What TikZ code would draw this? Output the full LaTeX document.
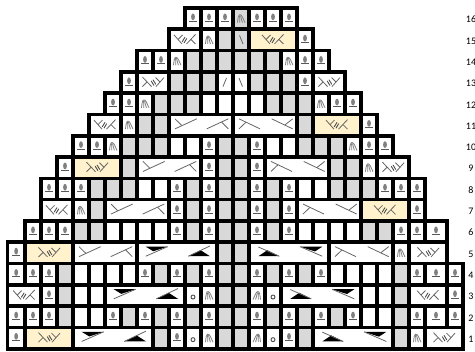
\documentclass[tikz,border=0pt]{standalone}
\usepackage{fontspec}
\setmainfont{Carlito}
\usepackage{xcolor}
\usetikzlibrary{calc}
\definecolor{cellgray}{HTML}{D9D9D9}
\definecolor{cellyellow}{HTML}{FFF2CC}
\tikzstyle{cellbox} = [draw=black, line width=3.6pt]
\tikzstyle{symline} = [draw=black!60, line width=0.8pt]
\tikzstyle{hillline} = [draw=black!50, line width=0.8pt]
\tikzstyle{rowlabel} = [font=\fontsize{10}{12}\selectfont, inner sep=0pt, text=black]
\tikzset{
  pics/stitchsym/.style={code={
    \fill[black!50] (0,-1.8) ellipse (1.9 and 3.4);
    \draw[black!65, line width=0.7pt] (-4,2.6) -- (4,2.6);
  }},
  pics/hillsym/.style={code={
    \draw[hillline] (-3.5,4) .. controls (-3,-1) and (-2.5,-4) .. (-1,-4) .. controls (1,-4) and (2,0) .. (4,4);
    \draw[hillline] (-1.2,4) -- (-1.4,-3);
    \draw[hillline] (1.4,4) -- (-0.5,-3);
  }},
  pics/yosym/.style={code={
    \draw[black!70, line width=0.9pt] (0,1.5) circle (2);
  }},
  pics/twistsym/.style={code={
    \draw[symline] (-11,-5) -- (-3,4);
    \draw[symline] (-7,-0.5) -- (-2.5,-5);
    \draw[black!70, line width=0.9pt] (-2.8,1.8) -- (0,-2.8);
    \draw[black!70, line width=0.9pt] (-1,3) -- (1.8,-1.6);
    \draw[symline] (1.5,4) -- (10.5,-5.5);
    \draw[symline] (6,-0.5) -- (10.5,4);
  }},
  pics/longup/.style={code={
    \draw[symline] (6,3.7) -- (27.7,-6.3);
    \draw[symline] (6,-6.3) -- (12.7,0.3);
  }},
  pics/longupend/.style={code={
    \draw[symline] (-26.3,3.7) -- (-4.7,-6.3);
    \draw[symline] (-11.3,-3) -- (-4.7,3.7);
  }},
  pics/longdown/.style={code={
    \draw[symline] (6,-6.3) -- (27,3.7);
    \draw[symline] (6,3.7) -- (13,-3);
  }},
  pics/longdownend/.style={code={
    \draw[symline] (-25.3,-6.3) -- (-4.3,3.7);
    \draw[symline] (-12,-0.3) -- (-4.3,-6.3);
  }},
  pics/wedgeup/.style={code={
    \fill[black] (8.7,-6.3) -- (30.7,-6.3) -- (16.3,-1.7) -- cycle;
    \draw[symline] (8.7,3.3) -- (30.7,-6.3);
  }},
  pics/wedgeupend/.style={code={
    \fill[black] (-28.7,3.3) -- (-7,3.3) -- (-16.3,-2.7) -- cycle;
    \draw[symline] (-28.7,3.3) -- (-7,-7);
  }},
  pics/wedgedown/.style={code={
    \fill[black] (9.3,3.3) -- (30.3,3.3) -- (18.3,-2.7) -- cycle;
    \draw[symline] (9.3,-6) -- (30.3,3.3);
  }},
  pics/wedgedownend/.style={code={
    \fill[black] (-29,-6.3) -- (-6.7,-6.3) -- (-14,-1.5) -- cycle;
    \draw[symline] (-29,-6.3) -- (-6.7,3.3);
  }}
}
\newcounter{colno}
\newcommand{\cellat}[2]{
  \pgfmathsetmacro\xa{{7.3,25,41,57,73,89,105,121,137,153,169,185,201,217,233,249,265,281,297,313,329,345,361,377,393,409,425,447,463}[\thecolno]}
  \addtocounter{colno}{#1}
  \pgfmathsetmacro\xb{{7.3,25,41,57,73,89,105,121,137,153,169,185,201,217,233,249,265,281,297,313,329,345,361,377,393,409,425,447,463}[\thecolno]}
  \draw[cellbox, fill=#2] (\xa,\ya) rectangle (\xb,\yb);
  \coordinate (cm) at ($(\xa,\ym)!0.5!(\xb,\ym)$);
  \coordinate (cl) at (\xa,\ym);
  \coordinate (cr) at (\xb,\ym);
}
\newcommand{\kinds}{\cellat{1}{white} \pic at (cm) {stitchsym};}
\newcommand{\kindw}{\cellat{1}{white}}
\newcommand{\kindg}{\cellat{1}{cellgray}}
\newcommand{\kindm}{\cellat{1}{white} \pic at (cm) {hillsym};}
\newcommand{\kindn}{\cellat{1}{white} \pic[xscale=-1] at (cm) {hillsym};}
\newcommand{\kindh}{\cellat{1}{cellgray} \pic at (cm) {hillsym};}
\newcommand{\kindd}{\cellat{1}{cellgray} \draw[symline] ($(cm)+(-1.5,-4.5)$) -- ($(cm)+(2,4)$);}
\newcommand{\kindo}{\cellat{1}{white} \pic at (cm) {yosym};}
\newcommand{\kindf}{\cellat{1}{white} \draw[symline] ($(cm)+(-2,4)$) -- ($(cm)+(1.5,-4.5)$);}
\newcommand{\kindb}{\cellat{1}{white} \draw[symline] ($(cm)+(-2,-4.5)$) -- ($(cm)+(1.5,4)$);}
\newcommand{\kindp}{\cellat{2}{white} \pic at (cm) {twistsym};}
\newcommand{\kindq}{\cellat{2}{white} \pic[xscale=-1] at (cm) {twistsym};}
\newcommand{\kindy}{\cellat{3}{cellyellow} \pic at (cm) {twistsym};}
\newcommand{\kindz}{\cellat{3}{cellyellow} \pic[xscale=-1] at (cm) {twistsym};}
\newcommand{\kindl}{\cellat{4}{white} \pic at (cl) {longup}; \pic at (cr) {longupend};}
\newcommand{\kindr}{\cellat{4}{white} \pic at (cl) {longdown}; \pic at (cr) {longdownend};}
\newcommand{\kindu}{\cellat{5}{white} \pic at (cl) {wedgeup}; \pic at (cr) {wedgeupend};}
\newcommand{\kindv}{\cellat{5}{white} \pic at (cl) {wedgedown}; \pic at (cr) {wedgedownend};}
\newcommand{\chartrow}[3]{
  \pgfmathsetmacro\ya{8+21.3*(16-#1)}
  \pgfmathsetmacro\yb{\ya+21.3}
  \pgfmathsetmacro\ym{\ya+10.65}
  \setcounter{colno}{#2}
  \addtocounter{colno}{-1}
  \foreach \k in {#3} {\csname kind\k\endcsname}
  \node (rowlabel#1) [rowlabel] at (471,\ym+1) {#1};
}
\begin{document}
\begin{tikzpicture}[x=1pt, y=-1pt]
    \useasboundingbox (0,0) rectangle (475,352);
    \chartrow{16}{12}{s,s,s,h,s,s,s}
    \chartrow{15}{11}{p,m,g,d,y,s}
    \chartrow{14}{9}{s,s,m,g,g,g,g,g,g,m,s,s}
    \chartrow{13}{8}{s,q,g,g,g,f,b,g,g,g,s,q}
    \chartrow{12}{7}{s,s,m,g,g,g,w,w,w,w,g,g,g,m,s,s}
    \chartrow{11}{6}{p,m,g,g,l,r,g,y,s}
    \chartrow{10}{5}{s,s,m,g,g,g,w,w,s,g,g,s,w,w,g,g,g,m,s,s}
    \chartrow{9}{4}{s,z,g,l,s,g,g,s,r,g,g,m,q}
    \chartrow{8}{3}{s,s,s,g,g,g,w,w,s,g,s,g,g,s,g,s,w,w,g,g,g,s,s,s}
    \chartrow{7}{3}{p,m,g,l,s,g,s,g,g,s,g,s,r,y,s}
    \chartrow{6}{2}{s,s,s,g,g,w,w,w,w,s,g,s,g,g,s,g,s,w,w,w,w,g,g,s,s,s}
    \chartrow{5}{1}{s,z,l,u,g,g,v,r,m,q}
    \chartrow{4}{1}{s,s,s,g,w,w,w,w,s,g,s,g,s,g,g,s,g,s,g,s,w,w,w,w,g,s,s,s}
    \chartrow{3}{1}{p,s,g,w,w,u,o,m,g,g,n,o,v,w,w,g,p,s}
    \chartrow{2}{1}{s,s,s,g,w,w,s,g,s,g,s,g,s,g,g,s,g,s,g,s,g,s,w,w,g,s,s,s}
    \chartrow{1}{1}{s,z,u,g,s,o,m,g,g,n,o,s,g,v,g,m,q}
\end{tikzpicture}
\end{document}
